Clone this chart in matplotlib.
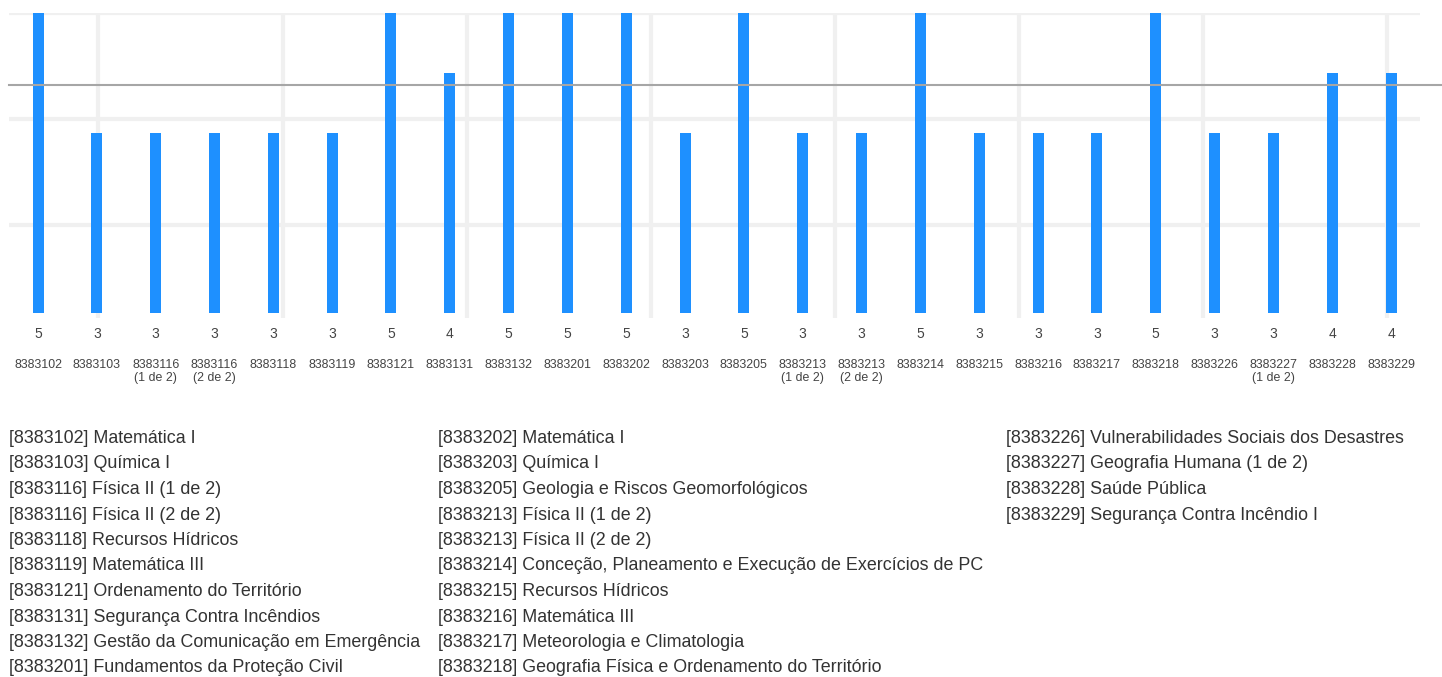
import matplotlib
matplotlib.use("Agg")
import matplotlib.pyplot as plt
import numpy as np

plt.rcParams['font.family'] = ['Liberation Sans', 'DejaVu Sans']

codes = ["8383102", "8383103", "8383116\n(1 de 2)", "8383116\n(2 de 2)", "8383118", "8383119",
         "8383121", "8383131", "8383132", "8383201", "8383202", "8383203", "8383205",
         "8383213\n(1 de 2)", "8383213\n(2 de 2)", "8383214", "8383215", "8383216", "8383217",
         "8383218", "8383226", "8383227\n(1 de 2)", "8383228", "8383229"]
values = [5, 3, 3, 3, 3, 3, 5, 4, 5, 5, 5, 3, 5, 3, 3, 5, 3, 3, 3, 5, 3, 3, 4, 4]

legend_col1 = ["[8383102] Matemática I", "[8383103] Química I", "[8383116] Física II (1 de 2)",
               "[8383116] Física II (2 de 2)", "[8383118] Recursos Hídricos", "[8383119] Matemática III",
               "[8383121] Ordenamento do Território", "[8383131] Segurança Contra Incêndios",
               "[8383132] Gestão da Comunicação em Emergência", "[8383201] Fundamentos da Proteção Civil"]
legend_col2 = ["[8383202] Matemática I", "[8383203] Química I", "[8383205] Geologia e Riscos Geomorfológicos",
               "[8383213] Física II (1 de 2)", "[8383213] Física II (2 de 2)",
               "[8383214] Conceção, Planeamento e Execução de Exercícios de PC",
               "[8383215] Recursos Hídricos", "[8383216] Matemática III",
               "[8383217] Meteorologia e Climatologia", "[8383218] Geografia Física e Ordenamento do Território"]
legend_col3 = ["[8383226] Vulnerabilidades Sociais dos Desastres", "[8383227] Geografia Humana (1 de 2)",
               "[8383228] Saúde Pública", "[8383229] Segurança Contra Incêndio I"]

W, H = 1442, 677
DPI = 100
fig = plt.figure(figsize=(W / DPI, H / DPI), dpi=DPI)
fig.patch.set_facecolor("white")

TEXT = "#444444"
BAR = "#1E90FF"

# background grid (decorative)
gx0, gx1, gy0, gy1 = 9, 1420, 13, 318
bg = fig.add_axes([gx0 / W, 1 - gy1 / H, (gx1 - gx0) / W, (gy1 - gy0) / H])
bg.set_xlim(gx0, gx1)
bg.set_ylim(gy1, gy0)
bg.set_xticks([98, 283, 467, 651, 835, 1019, 1203, 1387])
bg.set_yticks([13, 119, 225])
bg.grid(True, color="#f0f0f0", linewidth=3)
bg.tick_params(length=0, labelbottom=False, labelleft=False)
for s in bg.spines.values():
    s.set_visible(False)
bg.set_facecolor("none")
bg.set_zorder(0)

# main bars axes
x0px, dx = 38, (1391 - 38) / 23
base_px, top_px = 313, 13
ax = fig.add_axes([0, 1 - base_px / H, 1, (base_px - top_px) / H])
ax.set_zorder(1)
ax.set_facecolor("none")
ax.set_xlim(-x0px / dx, (W - x0px) / dx)
ax.set_ylim(0, 5)
x = np.arange(len(values))
ax.bar(x, values, width=11 / dx, color=BAR, zorder=2)
mean = float(np.mean(values))
ax.axhline(mean, xmin=9 / W, xmax=1, color="#a6a6a6", linewidth=1.5, zorder=3)
ax.axis("off")

pt = 72 / DPI
for i, (v, c) in enumerate(zip(values, codes)):
    ax.annotate(str(v), xy=(i, 0), xytext=(0, -21 * pt), textcoords="offset points",
                ha="center", va="center", fontsize=10, color=TEXT, annotation_clip=False)
    ax.annotate(c, xy=(i, 0), xytext=(0, -46.5 * pt), textcoords="offset points",
                ha="center", va="top", fontsize=8.9, color=TEXT, linespacing=1.05,
                annotation_clip=False)

cols = [(9, legend_col1), (438, legend_col2), (1006, legend_col3)]
for cx, items in cols:
    for j, t in enumerate(items):
        fig.text(cx / W, 1 - (438.5 + j * 25.5) / H, t, ha="left", va="center",
                 fontsize=12.9, color="#333333")

fig.savefig("out.png", dpi=DPI, facecolor="white")
